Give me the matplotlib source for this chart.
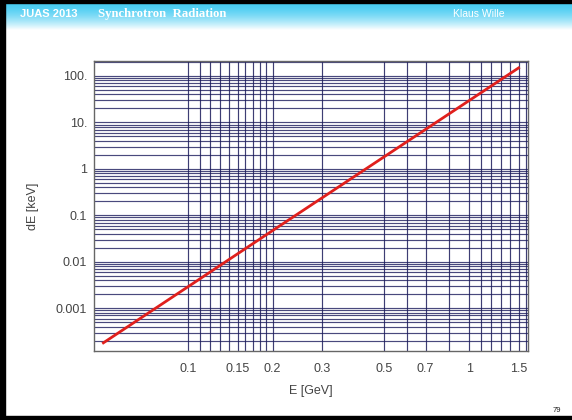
import numpy as np
import matplotlib.pyplot as plt
from matplotlib.patches import Rectangle

plt.rcParams['font.family'] = ['Liberation Sans', 'DejaVu Sans']

# energy loss per turn
E = [0.05, 0.1, 0.2, 0.5, 1.0, 1.5]              # GeV
dE = [1.8e-4, 2.9e-3, 0.047, 1.84, 29.5, 149.0]  # keV

x_ticks = [0.1, 0.15, 0.2, 0.3, 0.5, 0.7, 1.0, 1.5]
x_labels = ['0.1', '0.15', '0.2', '0.3', '0.5', '0.7', '1', '1.5']
y_ticks = [1e-3, 1e-2, 1e-1, 1, 10, 100]
y_labels = ['0.001', '0.01', '0.1', '1', '10.', '100.']

x_grid = [0.1, 0.11, 0.12, 0.13, 0.14, 0.15, 0.16, 0.17, 0.18, 0.19, 0.2,
          0.3, 0.5, 0.6, 0.7, 0.85, 1.0, 1.1, 1.2, 1.3, 1.4, 1.5, 1.6]
y_grid = [k * 10.0 ** n for n in range(-4, 3) for k in range(1, 10)]

W, H = 572, 420
fig = plt.figure(figsize=(W / 100, H / 100), dpi=100)

# slide header (gradient bar)
hdr = fig.add_axes([0, 1 - 30 / H, 1, 27 / H])
grad = np.linspace(0, 1, 100).reshape(-1, 1)
top = np.array([0.28, 0.80, 0.95])
g = grad[..., None] ** 1.6
rgb = top[None, None, :] * (1 - g) + g
hdr.imshow(rgb, aspect='auto', extent=[0, 1, 0, 1])
hdr.axis('off')

fig.text(20 / W, 1 - 14 / H, 'JUAS 2013', color='white', fontsize=8,
         fontweight='bold', va='center')
fig.text(98 / W, 1 - 14 / H, 'Synchrotron  Radiation', color='white', fontsize=9.2,
         fontweight='bold', family='Liberation Serif', va='center')
fig.text(505 / W, 1 - 14 / H, 'Klaus Wille', color='white', fontsize=7.5,
         va='center', ha='right')
fig.text(553 / W, 1 - 410 / H, '79', color='#222222', fontsize=5.5, va='center')

# black slide border
fig.patches.append(Rectangle((0, 0), 5 / W, 1, transform=fig.transFigure, color='black'))
fig.patches.append(Rectangle((0, 1 - 3 / H), 1, 3 / H, transform=fig.transFigure, color='black'))
fig.patches.append(Rectangle((0, 0), 1, 4 / H, transform=fig.transFigure, color='black'))

ax = fig.add_axes([94 / W, 1 - 351 / H, (528 - 94) / W, (351 - 61) / H])
ax.set_xscale('log')
ax.set_yscale('log')
ax.set_xlim(0.0463, 1.62)
ax.set_ylim(1.2e-4, 210)

for v in x_grid:
    ax.axvline(v, color='#1c1c5c', lw=0.85, alpha=0.85, zorder=1)
for v in y_grid:
    ax.axhline(v, color='#1c1c5c', lw=0.85, alpha=0.8, zorder=1)

ax.plot(E, dE, color='#e0201c', lw=2, zorder=3)

ax.set_xticks(x_ticks)
ax.set_xticklabels(x_labels)
ax.set_yticks(y_ticks)
ax.set_yticklabels(y_labels)
ax.minorticks_off()
ax.tick_params(length=0, labelsize=9, labelcolor='#444444')
ax.tick_params(axis='y', pad=5)
ax.tick_params(axis='x', pad=9)
for s in ax.spines.values():
    s.set_color('#666666')
    s.set_linewidth(1)

ax.set_xlabel('E [GeV]', fontsize=9, color='#444444', labelpad=7)
ax.set_ylabel('dE [keV]', fontsize=9, color='#444444', labelpad=12)

fig.savefig('out.png', dpi=100)
